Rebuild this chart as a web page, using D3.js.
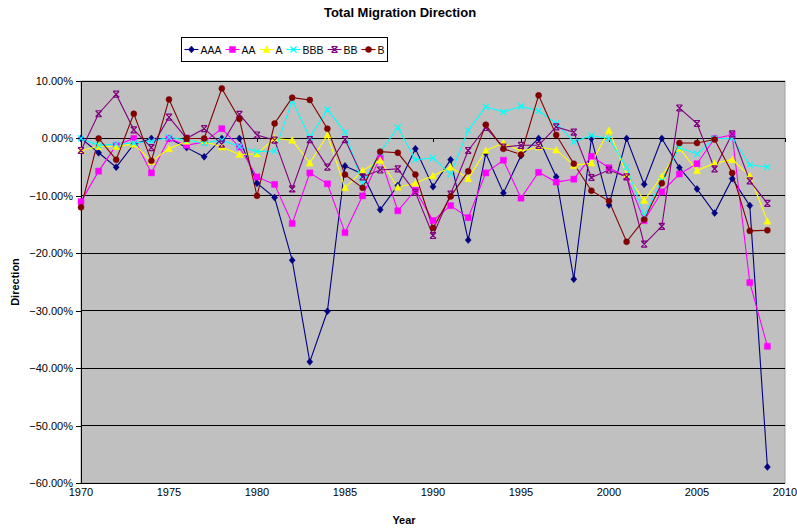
<!DOCTYPE html>
<html>
<head>
<meta charset="utf-8">
<script src="https://cdn.jsdelivr.net/npm/d3@7"></script>
<style>
  body { margin: 0; background: #fff; }
  text { font-family: "Liberation Sans", Arial, sans-serif; }
</style>
</head>
<body>
<svg id="chart" width="797" height="529"></svg>
<script>
var years = d3.range(1970, 2010);

var seriesNames = ["AAA", "AA", "A", "BBB", "BB", "B"];

// values in percent, 1970..2009
var aaa = [0, -2.5, -5, -1, 0, 0, -1.6, -3.2, 0, 0,
  -7.8, -10.3, -21.2, -38.9, -30.1, -4.8, -6.2, -12.4, -8.2, -1.8,
  -8.4, -3.7, -17.7, -2.6, -9.5, -3, 0, -6.7, -24.5, 0,
  -11.6, 0, -8, 0, -5.1, -8.8, -13, -7, -11.7, -57.2];
var aa = [-11, -5.7, -1.2, 0, -6, 0, -1.2, -0.6, 1.7, -1.5,
  -6.7, -8, -14.8, -6, -7.9, -16.4, -10, -3.3, -12.6, -9,
  -14.3, -11.7, -13.8, -6, -3.8, -10.4, -5.9, -7.6, -7.1, -3.1,
  -5.1, -6.7, -14.3, -9.3, -6.2, -4.4, 0, 0.6, -25.1, -36.2];
var a = [-2.1, -1.4, -1.4, -1, -4, -1.8, -0.5, -0.5, -1.5, -2.8,
  -2.7, 0, -0.3, -4.3, 0.6, -8.6, -5.6, -3.8, -8.5, -7.8,
  -6.5, -5, -7, -2.1, -0.8, -2.2, -1.5, -2, -4.7, -4.3,
  1.4, -6.3, -10.8, -6.6, -1.7, -5.6, -4.3, -3.7, -6.5, -14.4];
var bbb = [0, -1.2, -1, -0.8, -0.5, 0.2, -0.3, -0.8, -0.3, -1.4,
  -2.3, -2.2, 6.5, 0.2, 5, 1.1, -7.9, -2.4, 1.9, -3.7,
  -3.4, -6.2, 1.4, 5.5, 4.6, 5.6, 4.8, 2.6, -0.6, 0.5,
  0, -5, -13.4, -7.3, -1.6, -2.7, 0, 0, -4.6, -5];
var bb = [-2.1, 4.3, 7.7, 1.5, -1.6, 3.7, 0, 1.7, -1, 4.2,
  0.6, -0.3, -8.8, -0.2, -5, -0.2, -6.7, -5.5, -5.3, -9.4,
  -16.9, -9.7, -2.1, 1.9, -1.5, -1.2, -1.2, 2, 1.1, -6.8,
  -5.5, -6.7, -18.4, -15.3, 5.3, 2.6, -5.3, 0.8, -7.4, -11.3];
var b = [-12, 0, -3.7, 4.3, -3.9, 6.8, 0, 0, 8.7, 3.4,
  -10, 2.6, 7.1, 6.7, 1.7, -6.3, -8.6, -2.3, -2.5, -6.3,
  -15.6, -10.1, -5.7, 2.4, -1.8, -2.8, 7.5, 0.6, -4.4, -9.1,
  -10.9, -18, -14.1, -7.8, -0.8, -0.8, -0.2, -6, -16.1, -16];

var yTicks = [10, 0, -10, -20, -30, -40, -50, -60];
var xTicks = [1970, 1975, 1980, 1985, 1990, 1995, 2000, 2005, 2010];

var colors = ["#000080", "#ff00ff", "#ffff00", "#00ffff", "#800080", "#800000"];
var markers = ["diamond", "square", "triangle", "cross", "star", "circle"];

var series = [aaa, aa, a, bbb, bb, b].map(function(vals, i) {
  return {name: seriesNames[i], color: colors[i], marker: markers[i],
    values: vals.map(function(v, j) { return {year: years[j], value: v}; })};
});

var svg = d3.select("#chart");

var plot = {left: 81, top: 81, right: 785, bottom: 483};

var x = d3.scaleLinear().domain([1970, 2010]).range([plot.left, plot.right]);
var y = d3.scaleLinear().domain([-60, 10]).range([plot.bottom, plot.top]);

// plot area
svg.append("rect")
    .attr("x", plot.left).attr("y", plot.top)
    .attr("width", plot.right - plot.left).attr("height", plot.bottom - plot.top)
    .attr("fill", "#c0c0c0")
    .attr("stroke", "#a0a0a0");

// gridlines
svg.append("g").selectAll("line")
    .data(yTicks)
  .enter().append("line")
    .attr("x1", plot.left).attr("x2", plot.right)
    .attr("y1", function(d) { return y(d); })
    .attr("y2", function(d) { return y(d); })
    .attr("stroke", "#000")
    .attr("stroke-width", 1)
    .attr("shape-rendering", "crispEdges");

// y axis
var yAxis = svg.append("g")
    .attr("transform", "translate(" + plot.left + ",0)")
    .call(d3.axisLeft(y).tickValues(yTicks).tickSize(5).tickPadding(3)
      .tickFormat(function(d) { return d3.format(".2f")(d) + "%"; }));
yAxis.select(".domain").attr("stroke", "#000").attr("shape-rendering", "crispEdges");
yAxis.selectAll(".tick line").attr("stroke", "#000").attr("shape-rendering", "crispEdges");
yAxis.selectAll("text").attr("font-size", 11).attr("fill", "#000")
    .style("font-family", "'Liberation Sans', Arial, sans-serif");

// x axis crosses at 0, labels low
var xAxis = svg.append("g")
    .attr("transform", "translate(0," + y(0) + ")")
    .call(d3.axisBottom(x).tickValues(xTicks).tickSize(4).tickFormat(""));
xAxis.select(".domain").remove();
xAxis.selectAll(".tick line").attr("stroke", "#000").attr("shape-rendering", "crispEdges");

svg.append("g").selectAll("text")
    .data(xTicks)
  .enter().append("text")
    .attr("x", function(d) { return x(d); })
    .attr("y", plot.bottom + 13)
    .attr("text-anchor", "middle")
    .attr("font-size", 11)
    .text(function(d) { return d; });

// lines
var line = d3.line()
    .x(function(d) { return x(d.year); })
    .y(function(d) { return y(d.value); });

svg.append("g").selectAll("path")
    .data(series)
  .enter().append("path")
    .attr("d", function(d) { return line(d.values); })
    .attr("fill", "none")
    .attr("stroke", function(d) { return d.color; })
    .attr("stroke-width", 1.1);

function markerPath(type) {
  switch (type) {
    case "diamond": return "M0,-3.5L3,0L0,3.5L-3,0Z";
    case "square": return "M-3,-3H3V3H-3Z";
    case "triangle": return "M0,-3.5L3.5,3L-3.5,3Z";
    case "cross": return "M-3,-3L3,3M-3,3L3,-3";
    case "star": return "M-3,-3L3,3M-3,3L3,-3M-3,-3H3M-3,3H3";
    default: return d3.symbol(d3.symbolCircle, 28)();
  }
}

function drawMarker(g, s) {
  var open = s.marker === "cross" || s.marker === "star";
  g.append("path")
    .attr("d", markerPath(s.marker))
    .attr("fill", open ? "none" : s.color)
    .attr("stroke", s.color)
    .attr("stroke-width", open ? 1.2 : 0.5);
}

var markerGroups = svg.append("g").selectAll("g")
    .data(series)
  .enter().append("g");

markerGroups.each(function(s) {
  var g = d3.select(this);
  s.values.forEach(function(d) {
    var m = g.append("g").attr("transform", "translate(" + x(d.year) + "," + y(d.value) + ")");
    drawMarker(m, s);
  });
});

// title
svg.append("text")
    .attr("x", 400).attr("y", 17)
    .attr("text-anchor", "middle")
    .attr("font-size", 13).attr("font-weight", "bold")
    .text("Total Migration Direction");

// axis titles
svg.append("text")
    .attr("x", 404).attr("y", 524)
    .attr("text-anchor", "middle")
    .attr("font-size", 11).attr("font-weight", "bold")
    .text("Year");

svg.append("text")
    .attr("transform", "translate(19," + ((plot.top + plot.bottom) / 2) + ") rotate(-90)")
    .attr("text-anchor", "middle")
    .attr("font-size", 11).attr("font-weight", "bold")
    .text("Direction");

// legend
var legend = svg.append("g");
var box = legend.append("rect")
    .attr("y", 37.5).attr("height", 24)
    .attr("fill", "#fff").attr("stroke", "#000");

var items = legend.append("g");
var lx = 0;
series.forEach(function(s) {
  var g = items.append("g");
  g.append("line")
    .attr("x1", lx).attr("x2", lx + 14)
    .attr("y1", 49.5).attr("y2", 49.5)
    .attr("stroke", s.color).attr("stroke-width", 1.1);
  drawMarker(g.append("g").attr("transform", "translate(" + (lx + 7) + ",49.5)"), s);
  var t = g.append("text")
    .attr("x", lx + 16).attr("y", 53.5)
    .attr("font-size", 10.5)
    .text(s.name);
  lx += 16 + t.node().getComputedTextLength() + 4;
});
var legendW = lx + 2;
var legendX = 284.5 - legendW / 2;
items.attr("transform", "translate(" + (legendX + 3) + ",0)");
box.attr("x", Math.round(legendX) + 0.5).attr("width", Math.round(legendW));
</script>
</body>
</html>
